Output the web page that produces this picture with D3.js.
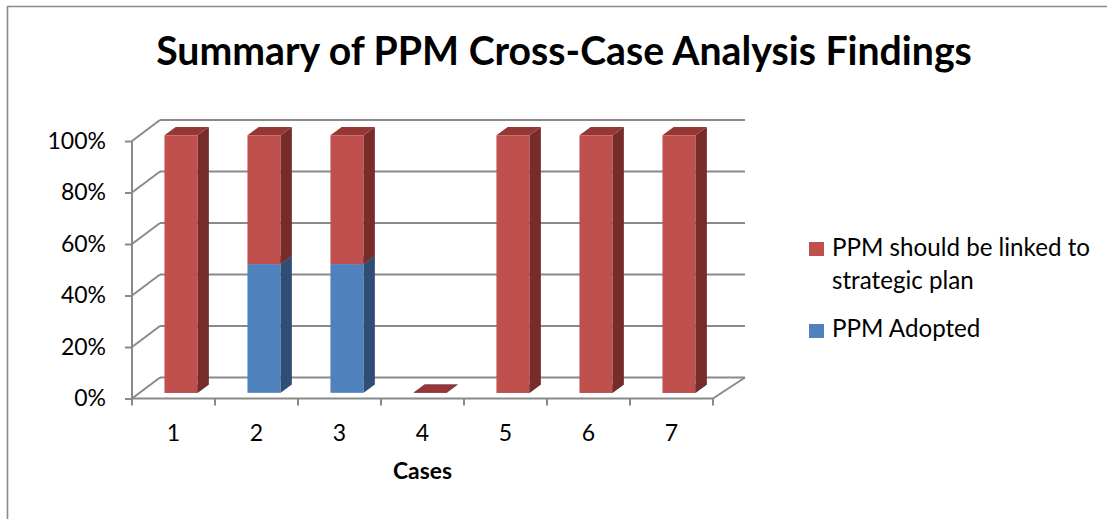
<!DOCTYPE html>
<html><head><meta charset="utf-8">
<script src="https://cdn.jsdelivr.net/npm/d3@7"></script>
<style>
html,body{margin:0;padding:0;background:#fff;}
svg{display:block;}
text{font-family:Lato, "Open Sans", sans-serif;fill:#000;}
</style></head>
<body>
<svg id="chart" width="1107" height="519"></svg>
<script>
const categories = ["1","2","3","4","5","6","7"];
const ppmAdopted = [0,1,1,0,0,0,0];
const ppmLinked  = [1,1,1,0,1,1,1];
const yTicks = [0,0.2,0.4,0.6,0.8,1];
const seriesNames = ["PPM Adopted","PPM should be linked to strategic plan"];
const titleText = "Summary of PPM Cross-Case Analysis Findings";
const xTitle = "Cases";

const svg = d3.select("#chart");
const W = 1107, H = 519;

// frame
svg.append("path").attr("d",`M7.5,${H+2} L7.5,6.5 L${W+2},6.5`)
  .attr("fill","none").attr("stroke","#8a8a8a").attr("stroke-width",1.6);

function fitText(sel, target){
  const w = sel.node().getComputedTextLength();
  const fs = parseFloat(sel.attr("font-size"));
  sel.attr("font-size", fs*target/w);
}

// title
const t = svg.append("text").attr("x",564).attr("y",65).attr("text-anchor","middle")
  .attr("font-weight","bold").attr("font-size",38).text(titleText);
fitText(t, 816);

// scales
const x = d3.scaleBand().domain(categories).range([132,713]);
const y = d3.scaleLinear().domain([0,1]).range([398.5,141]);
const DX = 28, DY = -21; // depth vector
const grid = "#8a8a8a";

// data normalized (100% stacked)
const rows = categories.map((c,i)=>{
  const tot = ppmAdopted[i]+ppmLinked[i];
  return {cat:c, adopted: tot? ppmAdopted[i]/tot:0, linked: tot? ppmLinked[i]/tot:0};
});
const stack = d3.stack().keys(["adopted","linked"])(rows);

const g = svg.append("g");
// back wall gridlines
yTicks.forEach(v=>{
  g.append("line").attr("x1",x.range()[0]+DX).attr("x2",x.range()[1]+DX+4)
    .attr("y1",y(v)+DY).attr("y2",y(v)+DY).attr("stroke",grid).attr("stroke-width",2);
  g.append("line").attr("x1",x.range()[0]).attr("x2",x.range()[0]+DX)
    .attr("y1",y(v)).attr("y2",y(v)+DY).attr("stroke",grid).attr("stroke-width",2);
});
// floor right edge and front edge
g.append("line").attr("x1",x.range()[1]).attr("y1",y(0)).attr("x2",x.range()[1]+DX+4).attr("y2",y(0)+DY)
  .attr("stroke",grid).attr("stroke-width",2);

// y axis
const yAxis = d3.axisLeft(y).tickValues(yTicks).tickFormat(d3.format(".0%")).tickSize(7).tickPadding(19);
const ya = svg.append("g").attr("transform",`translate(${x.range()[0]},0)`).call(yAxis);
ya.select(".domain").attr("stroke",grid).attr("stroke-width",2).attr("d",`M-0,${y(1)}V${y(0)}`);
ya.selectAll(".tick line").attr("stroke",grid).attr("stroke-width",2);
ya.selectAll(".tick text").attr("font-size",23).attr("font-family","Lato, sans-serif").attr("fill","#000");

// x axis
const xAxis = d3.axisBottom(x).tickSize(0).tickPadding(26);
const xa = svg.append("g").attr("transform",`translate(0,${y(0)})`).call(xAxis);
xa.select(".domain").attr("stroke",grid).attr("stroke-width",2).attr("d",`M${x.range()[0]},0H${x.range()[1]}`);
xa.selectAll(".tick text").attr("font-size",23).attr("font-family","Lato, sans-serif").attr("fill","#000");
// ticks at band edges
const edges = categories.map(c=>x(c)).concat([x.range()[1]]);
xa.selectAll("line.edge").data(edges).enter().append("line").attr("class","edge")
  .attr("x1",d=>d).attr("x2",d=>d).attr("y1",0).attr("y2",7).attr("stroke",grid).attr("stroke-width",2);

// x title
const xt = svg.append("text").attr("x",(x.range()[0]+x.range()[1])/2).attr("y",479)
  .attr("text-anchor","middle").attr("font-weight","bold").attr("font-size",22).text(xTitle);
fitText(xt, 59);

// bars
const colors = {
  adopted:{front:"#4F81BD", side:"#2E4E76", top:"#3F6797"},
  linked:{front:"#C0504D", side:"#772C2A", top:"#953735"}
};
const f0 = 0.27, f1 = 0.67; // bar depth fractions
const barW = x.bandwidth()*0.40;
const bars = svg.append("g");
rows.forEach((r,i)=>{
  stack.forEach(s=>{
    const d = s[i];
    const key = s.key;
    const cx = x(r.cat)+x.bandwidth()/2 + f0*DX;
    const xl = cx - barW/2, xr = cx + barW/2;
    const yb = y(d[0]) + f0*DY, yt = y(d[1]) + f0*DY;
    const ddx = (f1-f0)*DX, ddy = (f1-f0)*DY;
    const c = colors[key];
    // front
    bars.append("rect").attr("x",xl).attr("y",yt).attr("width",barW).attr("height",Math.max(0,yb-yt)).attr("fill",c.front);
    // side
    bars.append("path").attr("d",`M${xr},${yb}L${xr+ddx},${yb+ddy}L${xr+ddx},${yt+ddy}L${xr},${yt}Z`).attr("fill",c.side);
    // top
    bars.append("path").attr("d",`M${xl},${yt}L${xr},${yt}L${xr+ddx},${yt+ddy}L${xl+ddx},${yt+ddy}Z`).attr("fill",c.top);
  });
});

// legend
const legend = svg.append("g");
legend.append("rect").attr("x",809).attr("y",242).attr("width",15).attr("height",14).attr("fill",colors.linked.front);
const l1 = legend.append("text").attr("x",832).attr("y",256).attr("font-size",23).text("PPM should be linked to");
fitText(l1, 258);
const fsL = l1.attr("font-size");
legend.append("text").attr("x",832).attr("y",288.5).attr("font-size",fsL).text("strategic plan");
legend.append("rect").attr("x",809).attr("y",324).attr("width",15).attr("height",14).attr("fill",colors.adopted.front);
legend.append("text").attr("x",832).attr("y",337).attr("font-size",fsL).text("PPM Adopted");
</script>
</body></html>
